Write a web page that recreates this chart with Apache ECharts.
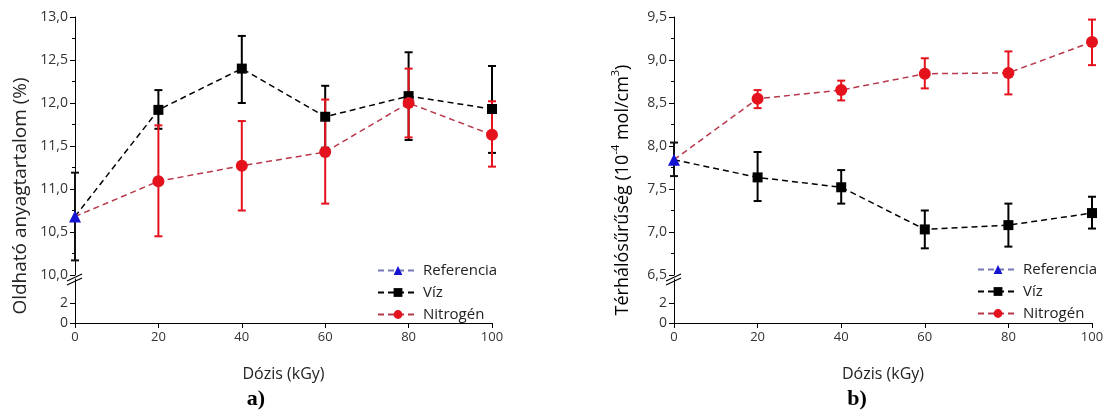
<!DOCTYPE html>
<html>
<head>
<meta charset="utf-8">
<script src="https://cdn.jsdelivr.net/npm/echarts@6/dist/echarts.min.js"></script>
<style>
  html, body { margin: 0; padding: 0; background: #fff; }
  #chart { width: 1109px; height: 410px; }
</style>
</head>
<body>
<div id="chart"></div>
<script>
// dose values (kGy)
const doses = [0, 20, 40, 60, 80, 100];
const legendNames = ['Referencia', 'Víz', 'Nitrogén'];

// a) Oldható anyagtartalom (%)
const refA = 10.68, refALow = 10.17, refAHigh = 11.19;
const vizA = [11.92, 12.40, 11.84, 12.08, 11.93];
const vizALow = [11.70, 12.00, 11.48, 11.57, 11.42];
const vizAHigh = [12.15, 12.78, 12.20, 12.59, 12.43];
const nitA = [11.09, 11.27, 11.43, 12.00, 11.63];
const nitALow = [10.45, 10.75, 10.83, 11.60, 11.26];
const nitAHigh = [11.74, 11.79, 12.04, 12.40, 12.02];

// b) Térhálósűrűség (10^-4 mol/cm3)
const refB = 7.84, refBLow = 7.65, refBHigh = 8.04;
const vizB = [7.635, 7.52, 7.03, 7.08, 7.22];
const vizBLow = [7.36, 7.33, 6.81, 6.83, 7.04];
const vizBHigh = [7.93, 7.72, 7.25, 7.33, 7.41];
const nitB = [8.55, 8.65, 8.84, 8.85, 9.21];
const nitBLow = [8.44, 8.53, 8.67, 8.60, 8.94];
const nitBHigh = [8.65, 8.76, 9.02, 9.10, 9.47];

const FONT = '"Open Sans", "Noto Sans", sans-serif';
const RED = '#e3121c';
const RED_LINE = '#b8384c';
const BLUE = '#1414d2';

const comma = v => v.toFixed(1).replace('.', ',');

function lineData(ref, vals) {
  return [{ value: [0, ref], symbol: 'none' }].concat(
    doses.slice(1).map((d, i) => [d, vals[i]])
  );
}
function errData(xs, lows, highs) {
  return xs.map((d, i) => [d, lows[i], highs[i]]);
}
function errRender(color) {
  return function (params, api) {
    const x = api.value(0);
    const lo = api.coord([x, api.value(1)]);
    const hi = api.coord([x, api.value(2)]);
    const w = 4;
    const st = { stroke: color, lineWidth: 2 };
    return {
      type: 'group',
      children: [
        { type: 'line', shape: { x1: lo[0], y1: lo[1], x2: hi[0], y2: hi[1] }, style: st },
        { type: 'line', shape: { x1: lo[0] - w, y1: lo[1], x2: lo[0] + w, y2: lo[1] }, style: st },
        { type: 'line', shape: { x1: hi[0] - w, y1: hi[1], x2: hi[0] + w, y2: hi[1] }, style: st }
      ]
    };
  };
}

function upperY(gi, min, max) {
  return {
    gridIndex: gi, type: 'value', min: min, max: max, interval: 0.5,
    axisLine: { show: true, lineStyle: { color: '#000', width: 1 } },
    axisTick: { show: true, length: 5, lineStyle: { color: '#000' } },
    minorTick: { show: true, splitNumber: 2, length: 3, lineStyle: { color: '#000' } },
    splitLine: { show: false },
    axisLabel: { color: '#333', fontSize: 14, fontFamily: FONT, margin: 7, formatter: comma }
  };
}
function lowerY(gi) {
  return {
    gridIndex: gi, type: 'value', min: 0, max: 4.4,
    axisLine: { show: true, lineStyle: { color: '#000', width: 1 } },
    axisTick: { show: true, length: 5, customValues: [0, 2], lineStyle: { color: '#000' } },
    splitLine: { show: false },
    axisLabel: { color: '#333', fontSize: 14, fontFamily: FONT, margin: 7, customValues: [0, 2] }
  };
}
function xAx(gi, visible) {
  return {
    gridIndex: gi, type: 'value', min: 0, max: 100, interval: 20, show: visible,
    axisLine: { show: true, lineStyle: { color: '#000', width: 1 } },
    axisTick: { show: true, length: 5, lineStyle: { color: '#000' } },
    splitLine: { show: false },
    axisLabel: { color: '#333', fontSize: 13, fontFamily: FONT, margin: 8 },
    name: visible ? 'Dózis (kGy)' : '',
    nameLocation: 'middle', nameGap: 43,
    nameTextStyle: { color: '#222', fontSize: 16, fontFamily: FONT }
  };
}

function panelSeries(gi, ref, refLo, refHi, viz, vizLo, vizHi, nit, nitLo, nitHi) {
  const dash = [6, 4];
  return [
    {
      type: 'custom', name: 'vizErr' + gi, xAxisIndex: gi, yAxisIndex: gi,
      renderItem: errRender('#000'), encode: { x: 0, y: [1, 2] },
      data: errData(doses.slice(1), vizLo, vizHi)
    },
    {
      type: 'line', name: 'Víz', xAxisIndex: gi, yAxisIndex: gi,
      data: lineData(ref, viz), symbol: 'rect', symbolSize: 10,
      itemStyle: { color: '#000' },
      lineStyle: { color: '#000', width: 1.5, type: dash }
    },
    {
      type: 'custom', name: 'nitErr' + gi, xAxisIndex: gi, yAxisIndex: gi,
      renderItem: errRender(RED), encode: { x: 0, y: [1, 2] },
      data: errData(doses.slice(1), nitLo, nitHi)
    },
    {
      type: 'line', name: 'Nitrogén', xAxisIndex: gi, yAxisIndex: gi,
      data: lineData(ref, nit), symbol: 'circle', symbolSize: 12,
      itemStyle: { color: RED },
      lineStyle: { color: RED_LINE, width: 1.5, type: dash }
    },
    {
      type: 'custom', name: 'refErr' + gi, xAxisIndex: gi, yAxisIndex: gi,
      renderItem: errRender('#111'), encode: { x: 0, y: [1, 2] },
      data: errData([0], [refLo], [refHi])
    },
    {
      type: 'line', name: 'Referencia', xAxisIndex: gi, yAxisIndex: gi,
      data: [[0, ref]], symbol: 'triangle', symbolSize: 12,
      itemStyle: { color: BLUE },
      lineStyle: { color: '#7777b8', width: 1.5, type: dash }
    }
  ];
}

function legendAt(left, top) {
  return {
    data: legendNames, orient: 'vertical', left: left, top: top,
    itemWidth: 40, itemHeight: 11, itemGap: 7,
    textStyle: { color: '#222', fontSize: 15, fontFamily: FONT },
    selectedMode: false
  };
}

function breakMark(x) {
  const st = { stroke: '#000', lineWidth: 1.2 };
  return [
    { type: 'line', shape: { x1: x - 8, y1: 281, x2: x + 7, y2: 274 }, style: st, z: 100 },
    { type: 'line', shape: { x1: x - 8, y1: 285, x2: x + 7, y2: 278 }, style: st, z: 100 }
  ];
}

const chart = echarts.init(document.getElementById('chart'), null, { renderer: 'canvas' });
chart.setOption({
  animation: false,
  backgroundColor: '#fff',
  grid: [
    { left: 75, width: 417, top: 17, height: 258 },
    { left: 75, width: 417, top: 279, height: 44 },
    { left: 674, width: 418, top: 17, height: 258 },
    { left: 674, width: 418, top: 279, height: 44 }
  ],
  xAxis: [xAx(0, false), xAx(1, true), xAx(2, false), xAx(3, true)],
  yAxis: [upperY(0, 10, 13), lowerY(1), upperY(2, 6.5, 9.5), lowerY(3)],
  legend: [legendAt(372, 258), legendAt(972, 257)],
  series: []
    .concat(panelSeries(0, refA, refALow, refAHigh, vizA, vizALow, vizAHigh, nitA, nitALow, nitAHigh))
    .concat(panelSeries(2, refB, refBLow, refBHigh, vizB, vizBLow, vizBHigh, nitB, nitBLow, nitBHigh)),
  graphic: [
    {
      type: 'text', x: 21, y: 196, rotation: Math.PI / 2,
      style: {
        text: 'Oldható anyagtartalom (%)', fill: '#222',
        font: '19px ' + FONT, align: 'center', verticalAlign: 'middle'
      }
    },
    {
      type: 'text', x: 621, y: 190, rotation: Math.PI / 2,
      style: {
        text: '{n|Térhálósűrűség (10}{s|-4}{n| mol/cm}{s|3}{n|)}',
        align: 'center', verticalAlign: 'middle',
        rich: {
          n: { fontSize: 18, fontFamily: FONT, color: '#222', lineHeight: 22, verticalAlign: 'bottom' },
          s: { fontSize: 11, fontFamily: FONT, color: '#222', lineHeight: 22, verticalAlign: 'top', padding: [0, 0, 8, 0] }
        }
      }
    },
    {
      type: 'text', x: 256, y: 399,
      style: { text: 'a)', fill: '#000', font: 'bold 22px "Liberation Serif", serif', align: 'center', verticalAlign: 'middle' }
    },
    {
      type: 'text', x: 857, y: 399,
      style: { text: 'b)', fill: '#000', font: 'bold 22px "Liberation Serif", serif', align: 'center', verticalAlign: 'middle' }
    }
  ].concat(breakMark(75)).concat(breakMark(674))
});
</script>
</body>
</html>
